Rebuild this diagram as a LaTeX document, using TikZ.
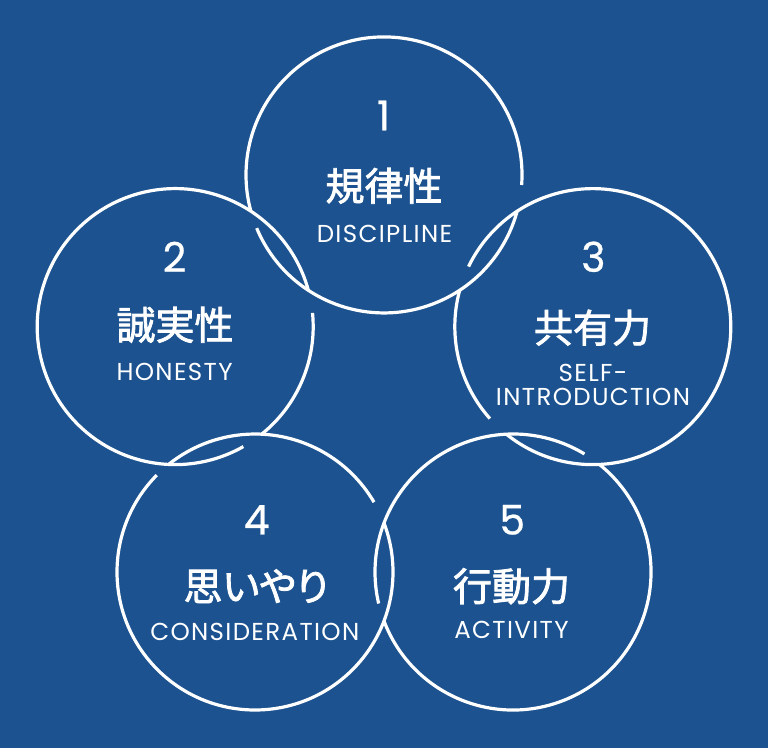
\documentclass[tikz,border=0pt]{standalone}
\usepackage{fontspec}
\setmainfont{Poppins}
\newfontfamily\enfont{Poppins}[LetterSpace=5.5]
\newfontfamily\numfont{Poppins}[FakeBold=0.6]
\newfontfamily\cjk{Noto Sans CJK JP}[FakeBold=2]
\newfontfamily\cjkp{Noto Sans CJK JP}[FakeBold=2,RawFeature=+palt]
\definecolor{bgblue}{RGB}{27,82,143}
\begin{document}
\begin{tikzpicture}[x=1pt,y=1pt,
  ring/.style={draw=white, line width=3.2pt},
  numtext/.style={text=white, font=\fontsize{41}{41}\selectfont\numfont, inner sep=0pt},
  jptext/.style={text=white, font=\fontsize{39}{39}\selectfont\cjk, inner sep=0pt},
  entext/.style={text=white, font=\fontsize{24.5}{24}\selectfont\enfont, inner sep=0pt, align=center}]
\useasboundingbox (0,0) rectangle (768,-748);
\fill[bgblue] (0,0) rectangle (768,-748);
% circle centres
\coordinate (c1) at (384,-174.9);
\coordinate (c2) at (175.2,-326.6);
\coordinate (c3) at (592.8,-326.6);
\coordinate (c4) at (255,-572);
\coordinate (c5) at (513,-572);
% interlocked rings
\draw[ring] ([shift={(-4.2:138)}]c1) arc[start angle=-4.2, end angle=195.2, radius=138];
\draw[ring] ([shift={(202.7:138)}]c1) arc[start angle=202.7, end angle=344.8, radius=138];
\draw[ring] ([shift={(15.2:138)}]c2) arc[start angle=15.2, end angle=299.6, radius=138];
\draw[ring] ([shift={(308.8:138)}]c2) arc[start angle=308.8, end angle=365.7, radius=138];
\draw[ring] ([shift={(164.8:138)}]c3) arc[start angle=164.8, end angle=221.8, radius=138];
\draw[ring] ([shift={(231.2:138)}]c3) arc[start angle=231.2, end angle=514.2, radius=138];
\draw[ring] ([shift={(30.4:138)}]c4) arc[start angle=30.4, end angle=128.8, radius=138];
\draw[ring] ([shift={(135.4:138)}]c4) arc[start angle=135.4, end angle=380.8, radius=138];
\draw[ring] ([shift={(58.8:138)}]c5) arc[start angle=58.8, end angle=193.2, radius=138];
\draw[ring] ([shift={(200.8:138)}]c5) arc[start angle=200.8, end angle=411.2, radius=138];
% texts
\node[numtext] (n1) at (383.5,-115.5) {1};
\node[jptext] (j1) at (384,-185.8) {規律性};
\node[entext] (e1) at (384.5,-234.2) {DISCIPLINE};
\node[numtext] (n2) at (174.5,-256.8) {2};
\node[jptext] (j2) at (175,-324.8) {誠実性};
\node[entext] (e2) at (174.6,-372.4) {HONESTY};
\node[numtext] (n3) at (593.4,-256.8) {3};
\node[jptext] (j3) at (592.5,-327.7) {共有力};
\node[entext] (e3) at (593,-384.7) {SELF-\\INTRODUCTION};
\node[numtext] (n4) at (256.7,-519.8) {4};
\node[jptext] (j4) at (256,-586.2) {\cjkp 思いやり};
\node[entext] (e4) at (254.8,-632) {CONSIDERATION};
\node[numtext] (n5) at (512.2,-519.8) {5};
\node[jptext] (j5) at (511.5,-586.2) {行動力};
\node[entext] (e5) at (511.5,-630.1) {ACTIVITY};
\end{tikzpicture}
\end{document}
